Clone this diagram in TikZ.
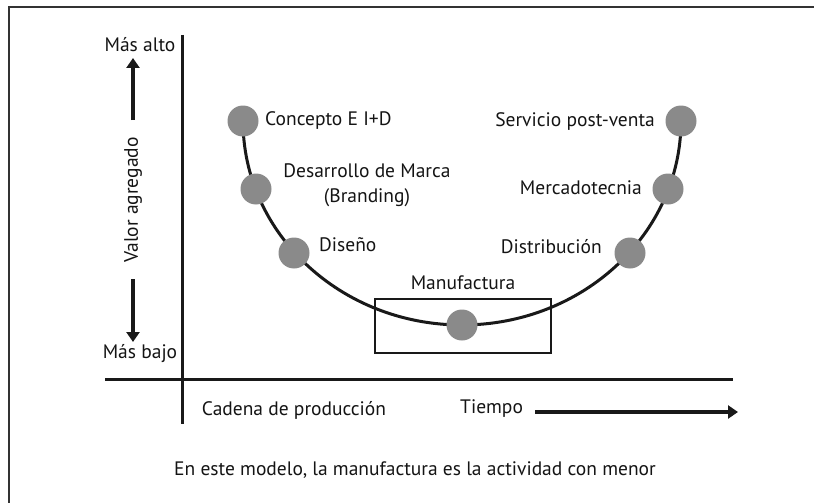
\documentclass[tikz,border=0pt]{standalone}
\usepackage{fontspec}
\setmainfont{PT Sans}
\usetikzlibrary{arrows.meta,backgrounds,positioning}

\begin{document}
\begin{tikzpicture}[x=1pt,y=-1pt,
  dot/.style={circle,fill=dotgray,inner sep=0pt,minimum size=31pt},
  lbl/.style={font=\fontsize{19.5}{25}\selectfont,text=black!92,inner sep=1pt},
  axis/.style={line width=3pt,black!90},
  valarrow/.style={line width=3.2pt,black!90,-{Triangle[width=13pt,length=10pt]}}]
\colorlet{dotgray}{black!46}
\useasboundingbox (0,0) rectangle (814,503);
% frame (cut at the right and the bottom)
\draw[line width=1.8pt,black!80] (9,503) -- (9,7) -- (814,7);

% axes
\coordinate (ytop) at (182,35);
\coordinate (ybot) at (182,424);
\coordinate (xl) at (105,379);
\coordinate (xr) at (733,379);
\draw[axis] (ytop) -- (ybot);
\draw[axis] (xl) -- (xr);

% value chain
\node[dot] at (243,121) (con) {};
\node[dot] at (256,189) (des) {};
\node[dot] at (294,253) (dis) {};
\node[dot] at (462,325) (man) {};
\node[dot] at (630,253) (dit) {};
\node[dot] at (668,189) (mer) {};
\node[dot] at (681,121) (srv) {};
\begin{scope}[on background layer]
\draw[line width=3pt,black!90] (con.center) arc[start angle=180,end angle=360,x radius=219pt,y radius=204pt];
\end{scope}

\node[lbl,anchor=west] at (264,121) (conl) {Concepto E I+D};
\node[lbl,align=center] at (367,185) (desl) {Desarrollo de Marca\\(Branding)};
\node[lbl,anchor=west] at (318,245) (disl) {Diseño};
\node[lbl] at (463,283) (manl) {Manufactura};
\node[lbl,anchor=east] at (603,247) (ditl) {Distribución};
\node[lbl,anchor=east] at (643,188) (merl) {Mercadotecnia};
\node[lbl,anchor=east] at (656,122) (srvl) {Servicio post-venta};

\node[draw,line width=2.4pt,black!90,minimum width=176pt,minimum height=54pt,inner sep=0pt] at (463,326) (manbox) {};

% value axis
\node[lbl] at (140,45) (alto) {Más alto};
\node[lbl] at (140,354) (bajo) {Más bajo};
\node[lbl,rotate=90] at (133,200) (valor) {Valor agregado};
\coordinate (upa) at (133,120);
\coordinate (upb) at (133,58);
\coordinate (dna) at (133,279);
\coordinate (dnb) at (133,342);
\draw[valarrow] (upa) -- (upb);
\draw[valarrow] (dna) -- (dnb);

% time axis
\node[lbl] at (294,410) (cadena) {Cadena de producción};
\node[lbl,anchor=west] at (459,409) (tiempo) {Tiempo};
\coordinate (tbeg) at (535,412);
\coordinate (tend) at (738,412);
\draw[valarrow] (tbeg) -- (tend);

\node[lbl] at (415,470) (nota) {En este modelo, la manufactura es la actividad con menor};
\end{tikzpicture}
\end{document}
